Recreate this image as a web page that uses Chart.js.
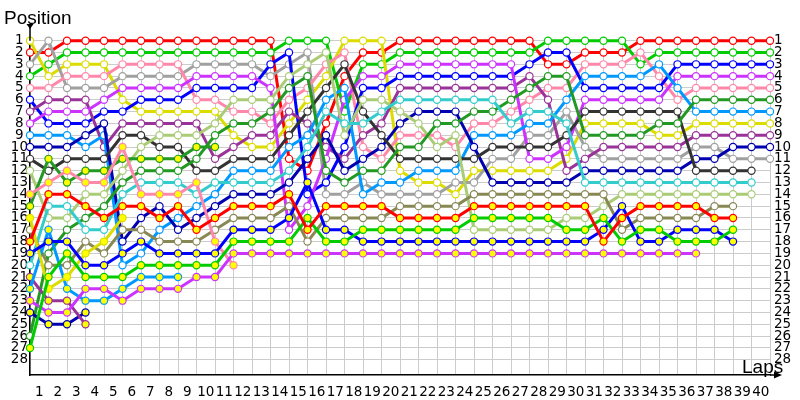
<!DOCTYPE html>
<html>
<head>
<meta charset="utf-8">
<script src="https://cdn.jsdelivr.net/npm/chart.js@4/dist/chart.umd.min.js"></script>
<style>
  html,body{margin:0;padding:0;background:#fff;}
  #wrap{position:relative;width:800px;height:400px;}
  canvas{position:absolute;left:0;top:0;}
  .ttl{position:absolute;font-family:"Liberation Sans",Arial,sans-serif;font-size:19px;color:#000;line-height:1;}
</style>
</head>
<body>
<div id="wrap">
  <canvas id="c" width="800" height="400"></canvas>
  <div class="ttl" style="left:4px;top:8px;">Position</div>
  <div class="ttl" style="left:742px;top:357px;">Laps</div>
</div>
<script>
// ---- categories (lap index: 0 = grid) ----
const laps = [0,1,2,3,4,5,6,7,8,9,10,11,12,13,14,15,16,17,18,19,20,21,22,23,24,25,26,27,28,29,30,31,32,33,34,35,36,37,38,39,40];
const lapLabels = ["1","2","3","4","5","6","7","8","9","10","11","12","13","14","15","16","17","18","19","20","21","22","23","24","25","26","27","28","29","30","31","32","33","34","35","36","37","38","39","40"];
const positions = [1,2,3,4,5,6,7,8,9,10,11,12,13,14,15,16,17,18,19,20,21,22,23,24,25,26,27,28];

// ---- series: position after each lap ----
const redW     = [2,2,1,1,1,1,1,1,1,1,1,1,1,1,11,12,8,4,2,2,1,1,1,1,1,1,1,1,3,3,2,2,2,1,1,1,1,1,1,1,1];
const greenW   = [4,3,2,2,2,2,2,2,2,2,2,2,2,2,1,1,1,7,3,3,2,2,2,2,2,2,2,2,1,1,1,1,1,3,2,2,2,2,2,2,2];
const grayW    = [3,1,5,5,5,4,4,4,4,3,3,3,3,4,3,2,14,14,13,14,14,14,14,13,13,11,11,9,9,7,10,11,11,11,11,11,10,10,11,11,11];
const yellowW  = [1,4,3,3,3,6,7,7,7,7,7,9,10,10,8,6,4,1,1,1,12,13,13,14,12,12,12,12,12,11,8,8,8,8,9,9,8,8,8,8,8];
const pinkW    = [5,5,4,4,4,3,3,3,3,6,6,7,7,8,6,5,3,2,10,11,9,9,9,10,8,8,7,6,5,5,3,3,3,2,4,6,5,5,5,5,5];
const blueW    = [6,8,8,8,7,7,6,6,6,5,5,5,5,3,2,14,13,10,5,5,4,4,4,4,4,4,4,3,2,2,5,5,5,5,5,3,3,3,3,3,3];
const dkpurpleW= [7,6,6,6,10,8,8,8,8,8,11,10,9,9,7,8,10,11,9,8,5,5,5,5,5,5,5,4,6,12,11,10,10,10,10,10,9,9,9,9,9];
const magentaW = [8,7,7,7,6,5,5,5,5,4,4,4,4,5,17,15,11,6,4,4,3,3,3,3,3,3,3,11,11,10,6,6,6,6,6,4,4,4,4,4,4];
const ltblueW  = [9,9,9,10,9,20,19,17,16,15,14,12,12,12,10,9,6,5,14,13,13,12,12,12,9,9,9,8,8,6,4,4,4,4,3,5,7,7,7,7,7];
const dkblueW  = [10,10,10,9,8,18,16,15,17,16,15,14,14,14,13,11,9,12,11,10,8,7,7,7,10,13,13,13,13,13,12,12,12,12,12,12,11,11,10,10,10];
const dkgrayW  = [11,12,11,11,11,9,9,10,10,12,12,11,11,11,9,7,5,3,7,9,11,11,11,11,11,10,10,10,10,9,7,7,7,7,7,7,12,12,12,12,null];
const ltgreenW = [12,16,16,14,14,12,10,9,9,9,8,6,6,6,4,3,2,9,6,6,7,8,10,9,17,17,17,17,17,16,16,15,14,14,14,14,14,14,14,14,null];
const dkgreenW = [26,19,17,16,15,13,12,12,12,11,9,8,8,7,5,4,12,13,12,12,10,10,8,8,7,7,6,5,4,4,9,9,9,9,8,8,6,6,6,6,6];
const cyanW    = [20,15,15,17,17,14,13,13,13,14,13,13,13,13,12,10,7,8,8,7,6,6,6,6,6,6,8,7,7,8,13,13,13,13,13,13,13,13,13,13,null];
const oliveW   = [17,20,20,18,19,17,17,18,18,18,17,16,16,16,15,18,16,16,16,16,15,15,15,15,14,14,14,14,14,14,14,14,17,16,16,16,16,15,15,null,null];

const redY     = [18,14,14,15,16,15,15,16,15,17,16,15,15,15,14,17,15,15,15,15,16,16,16,16,15,15,15,15,15,15,15,18,16,15,15,15,15,16,16,null,null];
const greenY   = [27,21,19,21,21,21,20,20,20,20,20,18,18,18,18,16,18,18,17,17,17,17,17,17,16,16,16,16,16,17,17,16,18,17,17,18,18,18,17,null,null];
const blueY    = [19,18,18,20,20,19,18,19,19,19,19,17,17,17,16,13,17,17,18,18,18,18,18,18,18,18,18,18,18,18,18,17,15,18,18,17,17,17,18,null,null];
const magentaY = [23,24,24,22,22,23,22,22,22,21,21,19,19,19,19,19,19,19,19,19,19,19,19,19,19,19,19,19,19,19,19,19,19,19,19,19,19,null,null,null,null];
const pinkY    = [14,13,12,13,13,10,14,14,14,13,18,20];
const yellowY  = [16,22,21,19,18,16];
const ltblueY  = [22,17,22,23,23,22,21,21,21];
const dkpurpleY= [21,23,23,25];
const dkblueY  = [24,25,25,24];
const dkgreenY = [15,11,13,12,12,11,11,11,11,10,10];

// ---- styling ----
const C = {
  red:'#ff0000', green:'#00cc00', gray:'#a0a0a0', yellow:'#dcdc00', pink:'#ff88aa',
  blue:'#0000ff', dkpurple:'#993399', magenta:'#cc33ff', ltblue:'#0099ff', dkblue:'#0000b0',
  dkgray:'#333333', ltgreen:'#aacc77', dkgreen:'#229922', cyan:'#33cccc', olive:'#888855'
};
const WHITE = '#ffffff', YEL = '#ffff00';

function ds(name, data, color, fill){
  return {
    label:name, data:data, borderColor:color, backgroundColor:color,
    borderWidth:3, pointRadius:3.6, pointHoverRadius:3.6, pointBorderWidth:1.2,
    pointBorderColor:color, pointBackgroundColor:fill, tension:0, spanGaps:false, clip:false
  };
}

const datasets = [
  ds('redY',redY,C.red,YEL), ds('greenY',greenY,C.green,YEL), ds('blueY',blueY,C.blue,YEL),
  ds('magentaY',magentaY,C.magenta,YEL), ds('pinkY',pinkY,C.pink,YEL), ds('yellowY',yellowY,C.yellow,YEL),
  ds('ltblueY',ltblueY,C.ltblue,YEL), ds('dkpurpleY',dkpurpleY,C.dkpurple,YEL), ds('dkblueY',dkblueY,C.dkblue,YEL),
  ds('dkgreenY',dkgreenY,C.dkgreen,YEL),
  ds('oliveW',oliveW,C.olive,WHITE), ds('cyanW',cyanW,C.cyan,WHITE), ds('dkgreenW',dkgreenW,C.dkgreen,WHITE),
  ds('ltgreenW',ltgreenW,C.ltgreen,WHITE), ds('dkgrayW',dkgrayW,C.dkgray,WHITE), ds('dkblueW',dkblueW,C.dkblue,WHITE),
  ds('ltblueW',ltblueW,C.ltblue,WHITE), ds('magentaW',magentaW,C.magenta,WHITE), ds('dkpurpleW',dkpurpleW,C.dkpurple,WHITE),
  ds('blueW',blueW,C.blue,WHITE), ds('pinkW',pinkW,C.pink,WHITE), ds('grayW',grayW,C.gray,WHITE),
  ds('yellowW',yellowW,C.yellow,WHITE), ds('greenW',greenW,C.green,WHITE), ds('redW',redW,C.red,WHITE)
];

const tickFont = {family:'"DejaVu Sans", Verdana, sans-serif', size:13.5};

const axisArrows = {
  id:'axisArrows',
  afterDraw(chart){
    const {ctx, chartArea:a} = chart;
    ctx.save();
    ctx.strokeStyle = '#000'; ctx.fillStyle = '#000'; ctx.lineWidth = 1.5;
    ctx.beginPath(); ctx.moveTo(a.left, a.top); ctx.lineTo(a.left, 27); ctx.stroke();
    ctx.beginPath(); ctx.moveTo(a.left-3.5, 24); ctx.lineTo(a.left+3.5, 24); ctx.lineTo(a.left, 29); ctx.closePath(); ctx.fill();
    ctx.beginPath(); ctx.moveTo(a.right, a.bottom); ctx.lineTo(a.right+8, a.bottom); ctx.stroke();
    ctx.beginPath(); ctx.moveTo(a.right+12, a.bottom); ctx.lineTo(a.right+4, a.bottom-3.5); ctx.lineTo(a.right+4, a.bottom+3.5); ctx.closePath(); ctx.fill();
    ctx.restore();
  }
};

new Chart(document.getElementById('c'), {
  type:'line',
  data:{ labels:laps, datasets:datasets },
  options:{
    responsive:false, animation:false, devicePixelRatio:1,
    layout:{padding:{top:40.7, left:0, right:0, bottom:0}},
    plugins:{legend:{display:false}, tooltip:{enabled:false}},
    elements:{line:{borderCapStyle:'round', borderJoinStyle:'round'}},
    scales:{
      x:{
        type:'linear', min:0, max:40, position:'bottom',
        afterBuildTicks: ax => { ax.ticks = laps.map(v => ({value:v})); },
        afterFit: ax => { ax.height = 25; },
        grid:{color:'#cccccc', lineWidth:1, drawTicks:false},
        border:{display:true, color:'#000', width:1.5},
        ticks:{autoSkip:false, maxRotation:0, minRotation:0, padding:9, labelOffset:9.25,
               color:'#000', font:tickFont,
               callback:(v,i) => (i < lapLabels.length ? lapLabels[i] : '')}
      },
      y:{
        type:'linear', reverse:true, min:1, max:29.29, position:'left',
        afterBuildTicks: ax => { ax.ticks = positions.map(v => ({value:v})); },
        afterFit: ax => { ax.width = 30; },
        grid:{color:'#cccccc', lineWidth:1, drawTicks:false},
        border:{display:true, color:'#000', width:1.5},
        ticks:{autoSkip:false, padding:2, crossAlign:'center', color:'#000', font:tickFont, callback:v => String(v)}
      },
      y2:{
        type:'linear', reverse:true, min:1, max:29.29, position:'right',
        afterBuildTicks: ax => { ax.ticks = positions.map(v => ({value:v})); },
        afterFit: ax => { ax.width = 30; },
        grid:{display:false, drawTicks:false},
        border:{display:false},
        ticks:{autoSkip:false, padding:4, color:'#000', font:tickFont, callback:v => String(v)}
      }
    }
  },
  plugins:[axisArrows]
});
</script>
</body>
</html>
